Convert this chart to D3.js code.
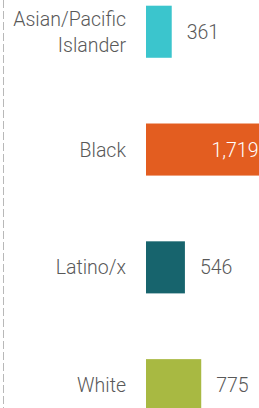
<!DOCTYPE html>
<html lang="en">
<head>
    <meta charset="UTF-8">
    <script src="https://d3js.org/d3.v7.min.js"></script>
    <style>
        html, body { margin: 0; padding: 0; background: #fff; }
        svg { display: block; }
        text { font-family: Roboto, "Noto Sans", sans-serif; font-weight: 300; fill: #595959; }
    </style>
    <title>Bars by race</title>
</head>
<body>
    <script type="text/javascript">
    // data
    const categories = ["Asian/Pacific Islander", "Black", "Latino/x", "White"];
    const labelLines = [["Asian/Pacific", "Islander"], ["Black"], ["Latino/x"], ["White"]];
    const values = [361, 1719, 546, 775];
    const colors = ["#3bc5cd", "#e35d20", "#17646d", "#a8b942"];

    const w = 259;
    const h = 408;

    const x = d3.scaleLinear().domain([0, 1719]).range([146, 268.5]);
    const y = d3.scaleBand()
        .domain(categories)
        .range([5.7, 411.2])
        .paddingInner(0.558)
        .paddingOuter(0);

    const svg = d3.select("body")
        .append("svg")
        .attr("width", w)
        .attr("height", h);

    // dashed line on the left
    svg.append("line")
        .attr("x1", 3.5).attr("x2", 3.5)
        .attr("y1", 0).attr("y2", h)
        .attr("stroke", "#b8b8b8")
        .attr("stroke-width", 1)
        .attr("stroke-dasharray", "8,3");

    const rows = svg.selectAll("g.row")
        .data(categories)
        .enter()
        .append("g")
        .attr("class", "row");

    rows.append("rect")
        .attr("x", x(0))
        .attr("y", function(d) { return y(d); })
        .attr("width", function(d, i) { return x(values[i]) - x(0); })
        .attr("height", y.bandwidth())
        .attr("fill", function(d, i) { return colors[i]; });

    // category labels
    rows.append("text")
        .attr("text-anchor", "end")
        .attr("font-size", "19.5px")
        .each(function(d, i) {
            const lines = labelLines[i];
            const cy = y(d) + y.bandwidth() / 2;
            const lh = 26;
            const t = d3.select(this);
            lines.forEach(function(s, k) {
                t.append("tspan")
                    .attr("x", 126)
                    .attr("y", cy + (k - (lines.length - 1) / 2) * lh)
                    .attr("dy", "0.36em")
                    .text(s);
            });
        });

    // value labels
    rows.append("text")
        .attr("font-size", "19.5px")
        .attr("dy", "0.36em")
        .attr("y", function(d) { return y(d) + y.bandwidth() / 2; })
        .attr("x", function(d, i) {
            return values[i] > 1000 ? x(values[i]) - 10 : x(values[i]) + 15;
        })
        .attr("text-anchor", function(d, i) { return values[i] > 1000 ? "end" : "start"; })
        .style("fill", function(d, i) { return values[i] > 1000 ? "#ffffff" : "#595959"; })
        .text(function(d, i) { return d3.format(",")(values[i]); });
    </script>
</body>
</html>
